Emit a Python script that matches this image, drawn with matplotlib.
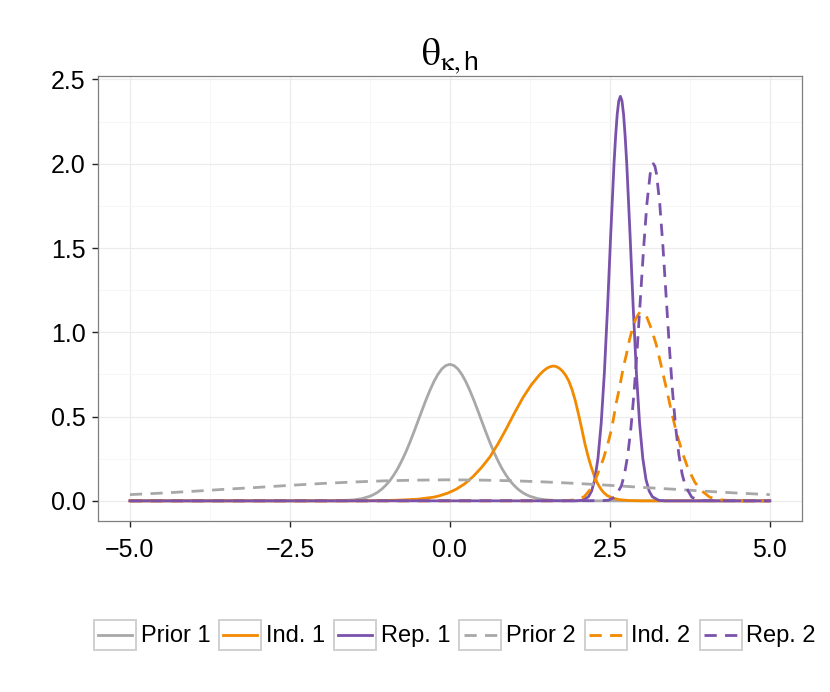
import numpy as np
import matplotlib.pyplot as plt
from matplotlib.lines import Line2D
from matplotlib.patches import Rectangle
from matplotlib.legend_handler import HandlerLine2D
from matplotlib.ticker import MultipleLocator, FuncFormatter

plt.rcParams['font.family'] = ['Liberation Sans', 'DejaVu Sans']
plt.rcParams['mathtext.fontset'] = 'stix'

# 曲线数据
prior1_x = [-5, -2.0, -1.75, -1.625, -1.5, -1.375, -1.25, -1.1875, -1.125, -1.0625, -1.0, -0.9375, -0.875,
            -0.8125, -0.75, -0.6875, -0.625, -0.5625, -0.5, -0.4375, -0.375, -0.3125, -0.25, -0.1875, -0.125,
            -0.0625, 0.0,
            0.0625, 0.125, 0.1875, 0.25, 0.3125, 0.375, 0.4375, 0.5, 0.5625, 0.625, 0.6875, 0.75, 0.8125,
            0.875, 0.9375, 1.0, 1.0625, 1.125, 1.1875, 1.25, 1.375, 1.5, 1.625, 1.75, 2.0, 5]
prior1_y = [0, 0, 0.001, 0.003, 0.006, 0.013, 0.027, 0.038, 0.052, 0.070, 0.093, 0.120, 0.154,
            0.193, 0.239, 0.290, 0.347, 0.408, 0.471, 0.535, 0.597, 0.655, 0.707, 0.750, 0.783,
            0.803, 0.81,
            0.803, 0.783, 0.750, 0.707, 0.655, 0.597, 0.535, 0.471, 0.408, 0.347, 0.290, 0.239, 0.193,
            0.154, 0.120, 0.093, 0.070, 0.052, 0.038, 0.027, 0.013, 0.006, 0.003, 0.001, 0, 0]

ind1_x = [-5, -1.5, -1.0, -0.75, -0.5, -0.25, -0.156, -0.026, 0.104, 0.235, 0.365, 0.495, 0.625, 0.755, 0.885,
          1.015, 1.146, 1.276, 1.406, 1.46, 1.51, 1.56, 1.615, 1.66, 1.71, 1.76, 1.81, 1.86, 1.91, 1.96,
          2.01, 2.06, 2.11, 2.16, 2.21, 2.26, 2.31, 2.36, 2.41, 2.46, 2.55, 2.65, 2.8, 3.0, 5]
ind1_y = [0, 0, 0.002, 0.005, 0.010, 0.022, 0.031, 0.047, 0.070, 0.102, 0.145, 0.198, 0.260, 0.340, 0.430,
          0.525, 0.615, 0.690, 0.750, 0.770, 0.785, 0.795, 0.800, 0.797, 0.787, 0.770, 0.745, 0.710, 0.660, 0.595,
          0.515, 0.43, 0.34, 0.265, 0.20, 0.145, 0.102, 0.07, 0.047, 0.031, 0.016, 0.007, 0.002, 0, 0]

rep1_x = [-5, 1.965, 2.065, 2.165, 2.215, 2.265, 2.315, 2.365, 2.415, 2.465, 2.515, 2.565, 2.59, 2.615, 2.64,
          2.665, 2.69, 2.715, 2.74, 2.765, 2.815, 2.865, 2.915, 2.965, 3.015, 3.065, 3.115, 3.165, 3.265, 3.365, 5]
rep1_y = [0, 0, 0.003, 0.024, 0.058, 0.127, 0.253, 0.460, 0.762, 1.151, 1.588, 1.997, 2.160, 2.292, 2.373,
          2.40, 2.373, 2.292, 2.160, 1.997, 1.588, 1.151, 0.762, 0.460, 0.253, 0.127, 0.058, 0.024, 0.003, 0, 0]

prior2_x = [-5, -4.5, -4, -3.5, -3, -2.5, -2, -1.5, -1, -0.5, 0, 0.5, 1, 1.5, 2, 2.5, 3, 3.5, 4, 4.5, 5]
prior2_y = [0.037, 0.046, 0.057, 0.069, 0.080, 0.092, 0.103, 0.112, 0.119, 0.123, 0.125,
            0.123, 0.119, 0.112, 0.103, 0.092, 0.080, 0.069, 0.057, 0.046, 0.037]

ind2_x = [-5, 1.8, 2.0, 2.1, 2.2, 2.27, 2.34, 2.40, 2.47, 2.53, 2.60, 2.656, 2.71, 2.76, 2.81, 2.86, 2.91, 2.97,
          3.02, 3.073, 3.15, 3.229, 3.307, 3.385, 3.46, 3.54, 3.63, 3.724, 3.83, 3.93, 4.06, 4.2, 4.4, 4.6, 5]
ind2_y = [0, 0, 0.008, 0.025, 0.07, 0.12, 0.19, 0.25, 0.34, 0.43, 0.58, 0.68, 0.79, 0.87, 0.96, 1.03, 1.085, 1.12,
          1.115, 1.095, 1.02, 0.922, 0.795, 0.665, 0.535, 0.408, 0.29, 0.19, 0.11, 0.061, 0.022, 0.007, 0.001, 0, 0]

rep2_x = [-5, 2.38, 2.48, 2.58, 2.68, 2.73, 2.78, 2.83, 2.88, 2.93, 2.98, 3.03, 3.08, 3.13, 3.155, 3.18,
          3.205, 3.23, 3.28, 3.33, 3.38, 3.43, 3.48, 3.53, 3.58, 3.63, 3.68, 3.78, 3.88, 3.98, 5]
rep2_y = [0, 0.001, 0.004, 0.022, 0.088, 0.159, 0.271, 0.433, 0.649, 0.916, 1.213, 1.510, 1.765, 1.938, 1.985, 2.0,
          1.985, 1.938, 1.765, 1.510, 1.213, 0.916, 0.649, 0.433, 0.271, 0.159, 0.088, 0.022, 0.004, 0.001, 0]

labels = ['Prior 1', 'Ind. 1', 'Rep. 1', 'Prior 2', 'Ind. 2', 'Rep. 2']
gray, orange, purple = '#a8a8a8', '#f28a00', '#7a52ab'


class BoxedLine(HandlerLine2D):
    """图例键：带灰色边框的方框 + 线段"""
    def create_artists(self, legend, orig_handle, xdescent, ydescent, width, height, fontsize, trans):
        box = Rectangle((-xdescent, -ydescent), width, height, facecolor='white',
                        edgecolor='#d0d0d0', lw=1.4)
        box.set_transform(trans)
        yc = -ydescent + height / 2
        ln = Line2D([-xdescent + 0.1 * width, -xdescent + 0.9 * width], [yc, yc])
        self.update_prop(ln, orig_handle, legend)
        ln.set_transform(trans)
        return [box, ln]


fig = plt.figure(figsize=(8.3, 6.92), dpi=100)
ax = fig.add_axes([0.118, 0.247, 0.848, 0.643])

lw = 2.0
dash = (4.4, 3.0)
h = []
h += ax.plot(prior1_x, prior1_y, color=gray, lw=lw)
h += ax.plot(ind1_x, ind1_y, color=orange, lw=lw)
h += ax.plot(rep1_x, rep1_y, color=purple, lw=lw)
h += ax.plot(prior2_x, prior2_y, color=gray, lw=lw, ls=(0, dash))
h += ax.plot(ind2_x, ind2_y, color=orange, lw=lw, ls=(0, dash))
h += ax.plot(rep2_x, rep2_y, color=purple, lw=lw, ls=(0, dash))

ax.set_xlim(-5.5, 5.5)
ax.set_ylim(-0.12, 2.52)
ax.xaxis.set_major_locator(MultipleLocator(2.5))
ax.xaxis.set_minor_locator(MultipleLocator(1.25))
ax.yaxis.set_major_locator(MultipleLocator(0.5))
ax.yaxis.set_minor_locator(MultipleLocator(0.25))
fmt = FuncFormatter(lambda v, p: f'{v:.1f}'.replace('-', '\u2212'))
ax.xaxis.set_major_formatter(fmt)
ax.yaxis.set_major_formatter(fmt)
ax.grid(which='major', color='#ebebeb', lw=0.8)
ax.grid(which='minor', color='#f5f5f5', lw=0.6)
ax.set_axisbelow(True)
ax.tick_params(which='major', length=4.5, width=1.0, color='#222222', labelsize=18, labelcolor='black')
ax.tick_params(axis='x', which='major', pad=8)
ax.tick_params(axis='y', which='major', pad=4.5)
ax.tick_params(which='minor', length=0)
for s in ax.spines.values():
    s.set_color('#7f7f7f')
    s.set_linewidth(0.9)

ax.set_title(r'$\mathrm{\theta}_{\mathrm{\kappa},\mathregular{h}}$', fontsize=27, pad=7)

fig.legend(h, labels, loc='center', bbox_to_anchor=(0.548, 0.083), ncol=6, frameon=False,
           fontsize=17, handlelength=1.78, handleheight=1.57, handletextpad=0.2, columnspacing=0.38,
           handler_map={Line2D: BoxedLine()})

fig.savefig('out.png', dpi=100)
